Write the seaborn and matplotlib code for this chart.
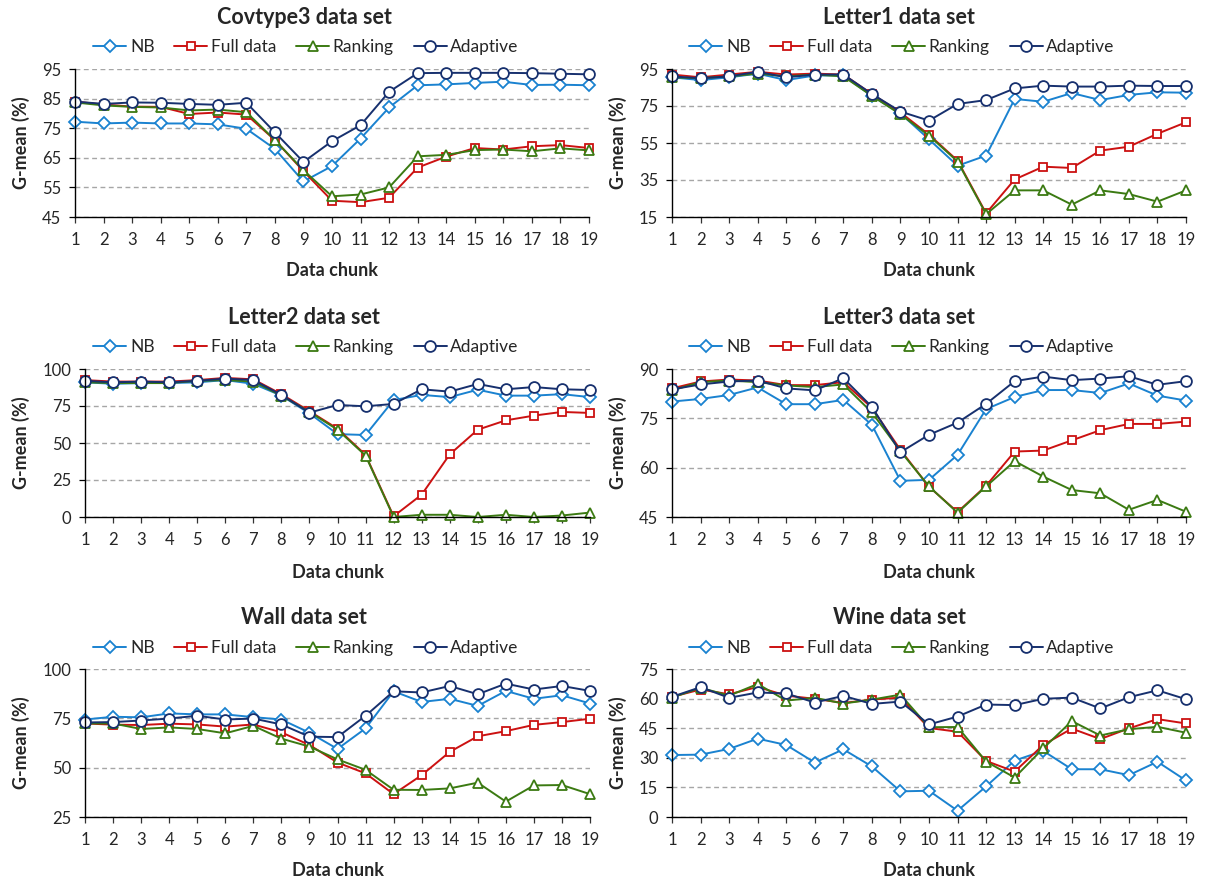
import matplotlib
matplotlib.use("Agg")
import matplotlib.pyplot as plt
import numpy as np
import pandas as pd
import seaborn as sns

# ---------------- data ----------------
chunks = list(range(1, 20))
methods = ["NB", "Full data", "Ranking", "Adaptive"]

cov_nb = [77.2, 76.6, 76.9, 76.6, 76.6, 76.3, 74.8, 68.0, 57.0, 62.2, 71.5, 82.0, 89.5, 89.8, 90.3, 90.7, 89.6, 89.7, 89.5]
cov_full = [84.0, 83.0, 82.3, 82.2, 79.8, 80.3, 79.6, 71.0, 60.5, 50.5, 50.0, 51.5, 61.7, 65.4, 68.3, 67.8, 68.9, 69.3, 68.3]
cov_rank = [83.7, 82.7, 82.2, 82.0, 81.0, 81.3, 80.4, 71.0, 60.8, 52.0, 52.6, 55.0, 65.5, 66.0, 67.6, 67.8, 67.2, 68.2, 67.5]
cov_adap = [84.0, 83.2, 83.7, 83.6, 83.2, 82.9, 83.6, 73.6, 63.6, 70.6, 76.0, 87.3, 93.6, 93.7, 93.7, 93.7, 93.6, 93.4, 93.2]

l1_nb = [90.5, 89.0, 90.5, 92.5, 89.0, 91.5, 91.5, 80.4, 71.0, 57.0, 42.7, 48.2, 78.8, 77.3, 82.0, 78.2, 81.0, 82.4, 82.2]
l1_full = [92.0, 90.5, 92.0, 93.5, 92.0, 92.5, 92.0, 81.5, 71.5, 59.5, 45.5, 17.0, 35.3, 42.2, 41.5, 50.9, 53.0, 60.0, 66.2]
l1_rank = [90.5, 90.0, 91.0, 92.5, 91.0, 92.0, 91.0, 80.5, 70.5, 59.0, 45.0, 16.5, 29.4, 29.4, 21.7, 29.4, 27.4, 23.3, 29.4]
l1_adap = [91.0, 90.0, 91.0, 93.5, 90.5, 92.0, 92.0, 81.5, 72.0, 67.1, 76.1, 78.2, 84.5, 86.0, 85.5, 85.5, 86.0, 85.8, 85.8]

l2_nb = [91.0, 90.0, 90.5, 90.5, 91.0, 92.5, 90.0, 82.0, 70.0, 56.0, 55.4, 79.0, 82.5, 81.0, 86.0, 82.0, 82.0, 83.0, 81.0]
l2_full = [92.5, 91.5, 91.5, 91.5, 92.5, 94.0, 93.0, 83.0, 71.5, 59.7, 42.0, 0.5, 15.1, 42.3, 59.0, 65.3, 68.5, 71.0, 70.3]
l2_rank = [91.0, 90.5, 90.5, 90.5, 92.0, 92.5, 91.5, 82.0, 71.0, 59.0, 41.5, 0.0, 1.5, 1.5, 0.0, 1.5, 0.0, 1.0, 3.0]
l2_adap = [92.0, 91.0, 91.5, 91.0, 92.0, 93.5, 92.5, 82.5, 70.5, 75.7, 74.8, 76.4, 86.3, 84.7, 89.9, 86.3, 87.8, 86.3, 85.8]

l3_nb = [80.1, 80.9, 82.1, 84.4, 79.3, 79.3, 80.6, 73.0, 56.0, 56.3, 63.9, 77.8, 81.5, 83.6, 83.6, 82.7, 85.6, 81.9, 80.4]
l3_full = [84.1, 86.2, 86.8, 86.5, 85.1, 85.1, 86.0, 78.2, 65.4, 54.2, 46.5, 54.5, 64.9, 65.2, 68.3, 71.4, 73.3, 73.3, 74.0]
l3_rank = [83.5, 86.0, 86.5, 86.0, 85.0, 84.5, 85.3, 76.8, 65.0, 54.3, 46.3, 54.3, 62.0, 57.3, 53.2, 52.2, 47.2, 50.2, 46.6]
l3_adap = [83.8, 85.3, 86.2, 86.5, 84.1, 83.5, 87.2, 78.5, 64.7, 70.0, 73.7, 79.4, 86.3, 87.7, 86.6, 87.1, 87.8, 85.2, 86.3]

wall_nb = [74.4, 75.8, 75.5, 77.5, 77.0, 77.0, 75.6, 74.4, 67.7, 59.5, 69.9, 88.7, 83.3, 84.9, 81.3, 88.9, 84.9, 86.7, 82.5]
wall_full = [72.4, 71.8, 71.6, 72.3, 71.9, 70.8, 71.9, 67.9, 61.5, 52.6, 47.1, 36.6, 46.2, 58.0, 65.9, 68.5, 71.7, 73.1, 74.8]
wall_rank = [72.4, 72.4, 69.6, 70.4, 69.6, 67.4, 71.2, 64.7, 60.7, 54.2, 48.9, 38.8, 38.7, 39.5, 42.4, 32.8, 41.0, 41.2, 36.6]
wall_adap = [72.9, 73.1, 73.9, 74.9, 76.3, 74.4, 74.9, 71.9, 65.7, 65.5, 76.3, 88.7, 88.1, 91.4, 87.2, 92.6, 89.6, 91.4, 88.9]

wine_nb = [31.4, 31.6, 34.5, 39.7, 36.5, 27.6, 34.3, 25.6, 13.0, 13.3, 3.2, 15.5, 28.6, 33.5, 24.2, 24.2, 21.2, 28.0, 18.5]
wine_full = [60.9, 64.6, 62.2, 65.9, 61.5, 59.9, 57.8, 59.5, 60.5, 45.1, 43.2, 28.4, 23.0, 36.5, 44.8, 39.5, 44.9, 49.6, 47.4]
wine_rank = [60.5, 65.5, 61.5, 67.4, 59.0, 60.4, 57.5, 59.5, 62.0, 45.5, 45.6, 28.1, 20.0, 34.8, 48.6, 41.3, 44.5, 45.7, 42.7]
wine_adap = [60.9, 65.8, 60.4, 63.1, 62.6, 58.0, 61.4, 57.3, 58.5, 46.9, 50.9, 57.0, 56.7, 59.9, 60.5, 55.0, 60.7, 64.2, 59.7]

titles = ["Covtype3 data set", "Letter1 data set", "Letter2 data set",
          "Letter3 data set", "Wall data set", "Wine data set"]
panel_series = [
    [cov_nb, cov_full, cov_rank, cov_adap],
    [l1_nb, l1_full, l1_rank, l1_adap],
    [l2_nb, l2_full, l2_rank, l2_adap],
    [l3_nb, l3_full, l3_rank, l3_adap],
    [wall_nb, wall_full, wall_rank, wall_adap],
    [wine_nb, wine_full, wine_rank, wine_adap],
]
y_ticks = [
    [45, 55, 65, 75, 85, 95],
    [15, 35, 55, 75, 95],
    [0, 25, 50, 75, 100],
    [45, 60, 75, 90],
    [25, 50, 75, 100],
    [0, 15, 30, 45, 60, 75],
]

# ---------------- style ----------------
sns.set_style("white")
plt.rcParams["font.family"] = ["Lato", "DejaVu Sans"]

colors = {"NB": "#1A82D0", "Full data": "#CC1111", "Ranking": "#3B7A12", "Adaptive": "#17306E"}
markers = {"NB": "D", "Full data": "s", "Ranking": "^", "Adaptive": "o"}
msizes = {"NB": 5.8, "Full data": 6.3, "Ranking": 7.4, "Adaptive": 7.8}

W, H = 1205, 881
fig = plt.figure(figsize=(W / 100, H / 100), dpi=100)

# pixel layout
rows = [(69, 217), (369, 517), (669, 817)]
xlabel_y = [271, 572, 871]
title_y = [17, 317, 617]
legend_y = [47, 347, 648]
lefts = [(75, 589), (85, 590), (85, 590)]
rights = (672, 1186)

for i in range(6):
    r, c = divmod(i, 2)
    top, bot = rows[r]
    x0, x1 = lefts[r] if c == 0 else rights
    ax = fig.add_axes([x0 / W, 1 - bot / H, (x1 - x0) / W, (bot - top) / H])

    df = pd.DataFrame({
        "chunk": np.tile(chunks, 4),
        "gmean": np.concatenate(panel_series[i]),
        "method": np.repeat(methods, len(chunks)),
    })
    for m in methods:
        sub = df[df["method"] == m]
        sns.lineplot(data=sub, x="chunk", y="gmean", ax=ax, color=colors[m],
                     marker=markers[m], markersize=msizes[m], markerfacecolor="white",
                     markeredgecolor=colors[m], markeredgewidth=1.3, linewidth=1.4,
                     label=m, clip_on=False, legend=False)

    yt = y_ticks[i]
    ax.set_xlim(1, 19)
    ax.set_ylim(yt[0], yt[-1])
    ax.set_xticks(chunks)
    ax.set_yticks(yt)
    ax.yaxis.grid(True, linestyle=(0, (3.5, 2.5)), color="#A6A6A6", linewidth=1.0)
    ax.xaxis.grid(False)
    ax.set_axisbelow(True)
    for s in ["top", "right"]:
        ax.spines[s].set_visible(False)
    for s in ["left", "bottom"]:
        ax.spines[s].set_color("black")
        ax.spines[s].set_linewidth(1.0)
    ax.tick_params(axis="x", direction="out", length=4, width=0.9, color="#333333",
                   labelsize=12, pad=7, bottom=True)
    ax.tick_params(axis="y", direction="out", length=4, width=0.9, color="black",
                   labelsize=12, pad=6, left=True)

    ax.set_xlabel("Data chunk", fontsize=13, fontweight="bold")
    ax.set_ylabel("G-mean (%)", fontsize=13, fontweight="bold")
    ax.xaxis.set_label_coords((x0 + x1) / 2 / W, 1 - xlabel_y[r] / H, transform=fig.transFigure)
    ax.xaxis.label.set_va("center")
    ylab_x = 21 if c == 0 else 618
    ax.yaxis.set_label_coords(ylab_x / W, 1 - (top + bot) / 2 / H, transform=fig.transFigure)
    ax.yaxis.label.set_va("center")

    tx = 304 if c == 0 else 899
    fig.text(tx / W, 1 - title_y[r] / H, titles[i], ha="center", va="center",
             fontsize=15.5, fontweight="bold")

    handles = ax.get_lines()[:4]
    lx = 306 if c == 0 else 902
    ax.legend(handles=handles, labels=methods, loc="center", ncol=4, frameon=False,
              bbox_to_anchor=(lx / W, 1 - legend_y[r] / H), bbox_transform=fig.transFigure,
              fontsize=12.5, handlelength=1.9, handletextpad=0.2, columnspacing=1.15,
              borderaxespad=0, borderpad=0)

fig.savefig("out.png", dpi=100)
